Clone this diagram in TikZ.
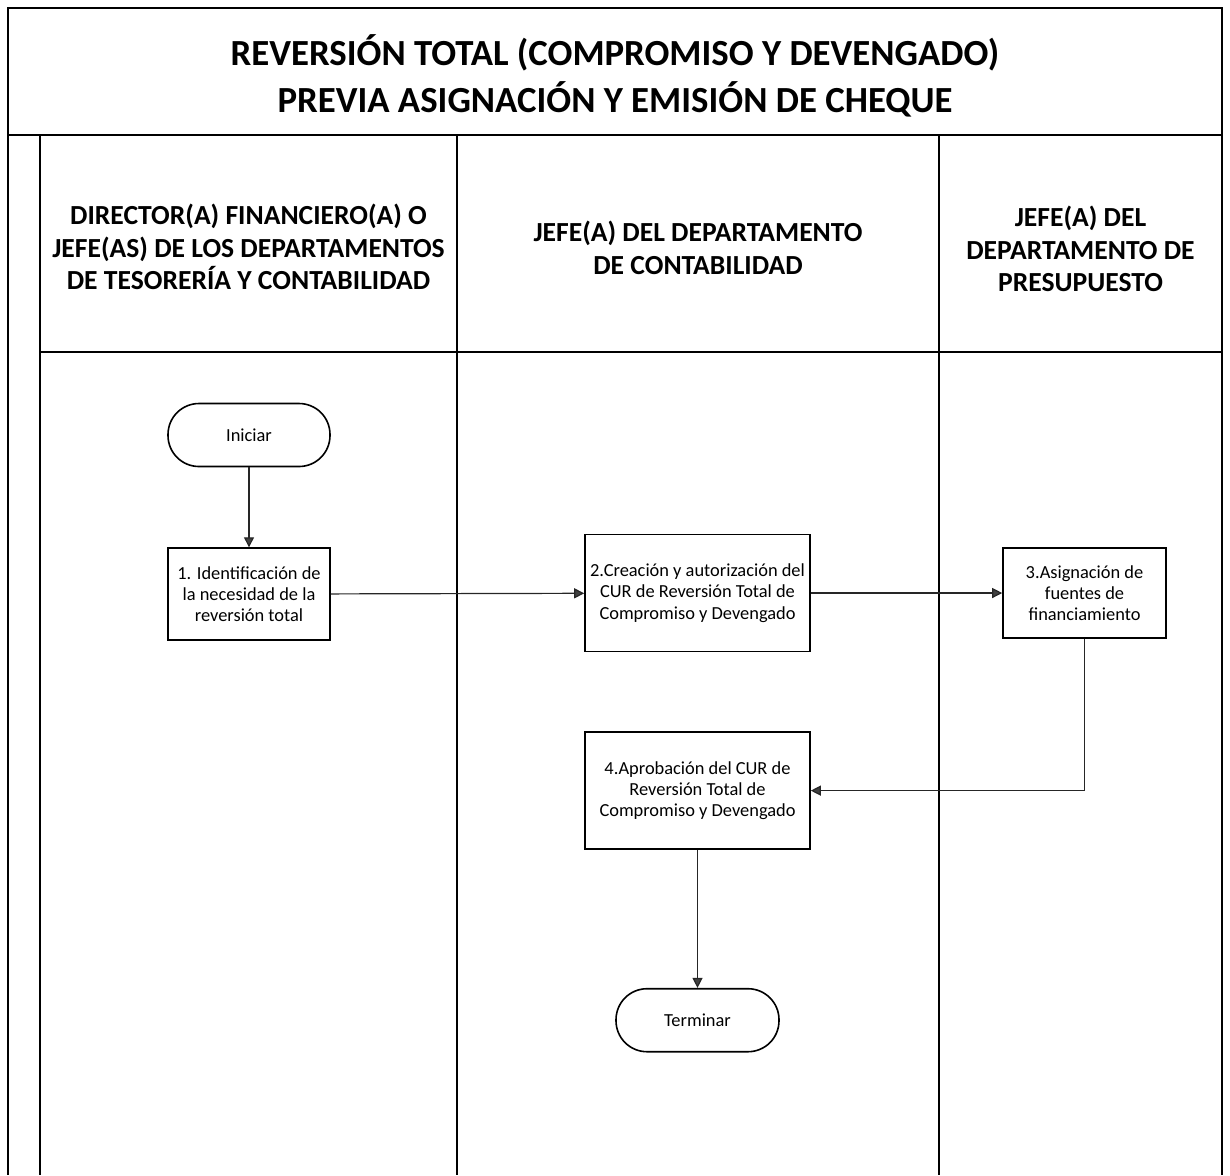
\documentclass[tikz,border=0pt]{standalone}
\usepackage{fontspec}
\setmainfont{Carlito}
\usepackage{tikz}
\usetikzlibrary{arrows.meta, positioning}

\begin{document}
\begin{tikzpicture}[
    x=0.5pt, y=-0.5pt,
    box/.style={rectangle, draw, line width=0.8pt, minimum height=46pt, minimum width=81pt, inner sep=2pt, align=center, font=\fontsize{9.2}{10.6}\selectfont},
    endbox/.style={rectangle, draw, rounded corners=15.5pt, line width=0.8pt, minimum height=31.5pt, minimum width=81pt, align=center, font=\fontsize{9.2}{10.6}\selectfont},
    lanehead/.style={align=center, font=\bfseries\fontsize{13.8}{16.2}\selectfont},
    frame/.style={line width=1pt},
    arrow/.style={-{Triangle[length=5pt, width=5pt, fill=black!75]}, line width=0.6pt, draw=black!85}
]
\useasboundingbox (0,0) rectangle (1230,1175);

% pool and lanes
\draw[frame] (8,8) rectangle (1222,135);
\foreach \x in {8,40,457,939,1222}
    \draw[frame] (\x,135) -- (\x,1175);
\draw[frame] (40,352) -- (1222,352);

\node[align=center, font=\bfseries\fontsize{18.4}{23.5}\selectfont] (title) at (615,76)
    {REVERSIÓN TOTAL (COMPROMISO Y DEVENGADO)\\PREVIA ASIGNACIÓN Y EMISIÓN DE CHEQUE};

\node[lanehead] (dir) at (248.5,247) {DIRECTOR(A) FINANCIERO(A) O\\JEFE(AS) DE LOS DEPARTAMENTOS\\DE TESORERÍA Y CONTABILIDAD};
\node[lanehead] (cont) at (698,248) {JEFE(A) DEL DEPARTAMENTO\\DE CONTABILIDAD};
\node[lanehead] (pres) at (1080.5,249) {JEFE(A) DEL\\DEPARTAMENTO DE\\PRESUPUESTO};

% steps
\node[endbox] (ini) at (249,435) {Iniciar};
\node[box, below=40pt of ini] (ident) {1. Identificación de\\la necesidad de la\\reversión total};
\node[box, minimum width=112.5pt, minimum height=58.5pt] (crea) at (697.5,593) {2.Creación y autorización del\\CUR de Reversión Total de\\Compromiso y Devengado};
\node[box, minimum width=81.5pt, minimum height=45pt] (asig) at (1084.5,593) {3.Asignación de\\fuentes de\\financiamiento};
\node[box, minimum width=112.5pt, minimum height=58.5pt, below=39.5pt of crea] (aprob) {4.Aprobación del CUR de\\Reversión Total de\\Compromiso y Devengado};
\node[endbox, minimum width=81.5pt, below=69pt of aprob] (fin) {Terminar};

\draw[arrow] (ini) -- (ident);
\draw[arrow] (ident) -- (crea);
\draw[arrow] (crea) -- (asig);
\draw[arrow] (asig.south) |- (aprob.east);
\draw[arrow] (aprob) -- (fin);
\end{tikzpicture}
\end{document}
